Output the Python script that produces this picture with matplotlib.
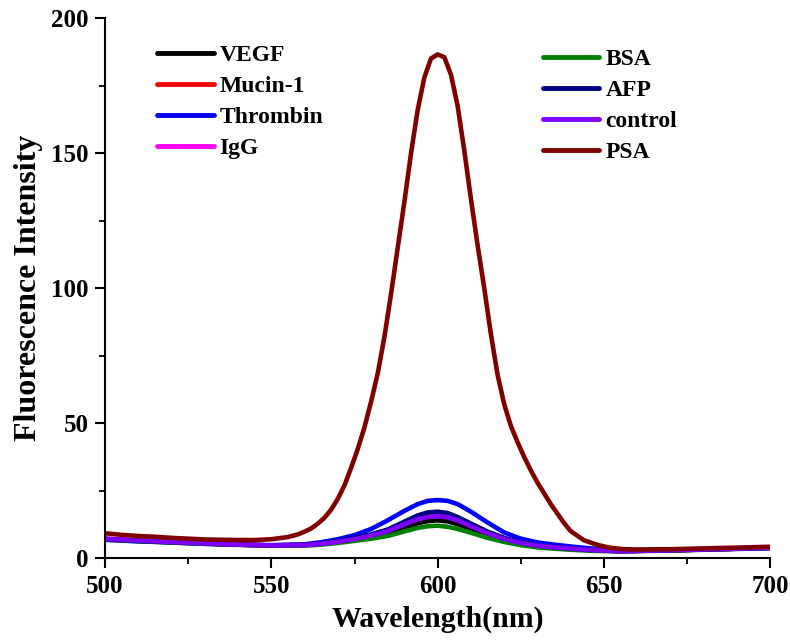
import matplotlib
matplotlib.use("Agg")
import matplotlib.pyplot as plt
from matplotlib.ticker import MultipleLocator

plt.rcParams['font.family'] = ['Liberation Serif', 'DejaVu Serif']
plt.rcParams['font.weight'] = 'bold'

wavelength = [500, 510, 520, 530, 540, 550, 560, 565, 570, 575, 580, 585, 590, 594, 597,
              600, 603, 606, 610, 615, 620, 625, 630, 635, 640, 645, 650, 655, 660, 670,
              680, 690, 700]

vegf = [7.0, 6.4, 5.9, 5.4, 5.0, 4.7, 4.8, 5.3, 6.1, 7.0, 8.0, 9.2, 11.3, 12.9, 13.7,
        14.0, 13.6, 12.6, 10.8, 8.5, 6.7, 5.3, 4.4, 3.9, 3.4, 3.0, 2.8, 2.6, 2.7, 2.9,
        3.2, 3.5, 3.8]
mucin1 = [7.1, 6.5, 6.0, 5.5, 5.0, 4.7, 4.9, 5.4, 6.2, 7.3, 8.6, 10.4, 13.2, 15.4, 16.3,
          16.5, 16.1, 14.7, 12.4, 9.5, 7.3, 5.7, 4.7, 4.1, 3.6, 3.1, 2.8, 2.6, 2.7, 2.9,
          3.2, 3.5, 3.8]
thrombin = [6.8, 6.2, 5.8, 5.3, 5.0, 4.8, 5.1, 5.9, 7.0, 8.5, 10.8, 14.0, 17.5, 20.0, 21.2,
            21.5, 21.2, 20.0, 17.2, 13.2, 9.5, 7.2, 5.8, 5.0, 4.3, 3.7, 3.2, 2.9, 2.9, 3.0,
            3.3, 3.6, 3.9]
igg = [7.2, 6.5, 6.0, 5.5, 5.0, 4.7, 4.8, 5.3, 6.1, 7.2, 8.5, 10.2, 12.9, 14.9, 15.8,
       16.0, 15.6, 14.3, 12.0, 9.3, 7.2, 5.6, 4.6, 4.0, 3.5, 3.1, 2.8, 2.6, 2.7, 2.9,
       3.2, 3.5, 3.8]
bsa = [6.9, 6.3, 5.8, 5.3, 4.9, 4.6, 4.6, 5.0, 5.6, 6.4, 7.2, 8.2, 9.9, 11.2, 11.8,
       12.0, 11.6, 10.8, 9.4, 7.5, 6.0, 4.8, 4.0, 3.5, 3.1, 2.8, 2.6, 2.5, 2.6, 2.8,
       3.1, 3.4, 3.7]
afp = [7.0, 6.4, 5.9, 5.4, 5.0, 4.7, 4.9, 5.4, 6.3, 7.4, 8.8, 10.6, 13.5, 15.8, 16.9,
       17.2, 16.7, 15.2, 12.8, 9.8, 7.5, 5.8, 4.7, 4.1, 3.6, 3.1, 2.8, 2.6, 2.7, 2.9,
       3.2, 3.5, 3.8]
control = [7.2, 6.5, 6.0, 5.5, 5.0, 4.7, 4.8, 5.3, 6.0, 7.0, 8.3, 10.0, 12.5, 14.4, 15.2,
           15.5, 15.1, 14.0, 11.8, 9.2, 7.1, 5.6, 4.6, 4.0, 3.5, 3.1, 2.8, 2.6, 2.7, 2.9,
           3.2, 3.5, 3.8]

psa_wavelength = [500, 505, 510, 515, 520, 525, 530, 535, 540, 545, 550, 555, 558, 560,
                  562, 564, 566, 568, 570, 572, 574, 576, 578, 580, 582, 584, 586, 588, 590,
                  592, 594, 596, 598, 600, 602, 604, 606, 608, 610, 612, 614, 616, 618, 620,
                  622, 624, 626, 628, 630, 632, 634, 636, 638, 640, 644, 648, 652, 656, 660,
                  670, 680, 690, 700]
psa = [9.2, 8.6, 8.2, 7.9, 7.5, 7.2, 6.9, 6.8, 6.7, 6.7, 7.0, 7.8, 8.8, 9.8,
       11.0, 12.8, 15.0, 18.0, 22.0, 27.0, 33.5, 40.5, 48.5, 58.0, 68.5, 82.0, 98.0, 115.0, 132.0,
       150.0, 166.0, 178.0, 185.0, 186.5, 185.5, 179.0, 167.5, 151.0, 133.0, 116.0, 100.0, 83.0, 68.0, 57.0,
       49.0, 43.0, 37.5, 32.5, 28.0, 24.0, 20.0, 16.5, 13.0, 10.0, 6.6, 4.9, 3.8, 3.3, 3.2,
       3.3, 3.6, 3.9, 4.2]

labels_left = ["VEGF", "Mucin-1", "Thrombin", "IgG"]
labels_right = ["BSA", "AFP", "control", "PSA"]
small_series = [vegf, mucin1, thrombin, igg, bsa, afp, control]
colors = ["#000000", "#ff0000", "#0000ff", "#ff00ff", "#008000", "#000080", "#8000ff", "#800000"]

fig = plt.figure(figsize=(7.9, 6.43), dpi=100)
ax = fig.add_axes([0.133, 0.132, 0.842, 0.840])

lines = []
for ys, c, lab in zip(small_series, colors[:7], labels_left + labels_right[:3]):
    ln, = ax.plot(wavelength, ys, color=c, lw=3.3, label=lab, solid_capstyle='round',
                  solid_joinstyle='round')
    lines.append(ln)
ln, = ax.plot(psa_wavelength, psa, color=colors[7], lw=3.3, label="PSA",
              solid_capstyle='round', solid_joinstyle='round')
lines.append(ln)

ax.set_xlim(500, 700)
ax.set_ylim(0, 200)
ax.xaxis.set_major_locator(MultipleLocator(50))
ax.xaxis.set_minor_locator(MultipleLocator(25))
ax.yaxis.set_major_locator(MultipleLocator(50))
ax.yaxis.set_minor_locator(MultipleLocator(25))
for s in ['top', 'right']:
    ax.spines[s].set_visible(False)
for s in ['left', 'bottom']:
    ax.spines[s].set_linewidth(1.5)
ax.tick_params(which='major', direction='out', length=7, width=1.5, labelsize=18, pad=5)
ax.tick_params(which='minor', direction='out', length=4, width=1.3)
for t in ax.get_xticklabels() + ax.get_yticklabels():
    t.set_fontweight('bold')

ax.set_xlabel("Wavelength(nm)", fontsize=21.5, fontweight='bold', labelpad=6)
ax.set_ylabel("Fluorescence Intensity", fontsize=23, fontweight='bold', labelpad=6)

leg_kw = dict(frameon=False, handlelength=2.4, handletextpad=0.25,
              labelspacing=0.4, borderaxespad=0.0, borderpad=0.0,
              prop={'weight': 'bold', 'size': 17}, bbox_transform=fig.transFigure)
leg1 = ax.legend(lines[:4], labels_left, loc='upper left', bbox_to_anchor=(0.1987, 0.931), **leg_kw)
ax.add_artist(leg1)
leg2 = ax.legend(lines[4:], labels_right, loc='upper left', bbox_to_anchor=(0.687, 0.9245), **leg_kw)
for leg in (leg1, leg2):
    for h in leg.legend_handles:
        h.set_linewidth(3.5)

fig.savefig("out.png", dpi=100)
